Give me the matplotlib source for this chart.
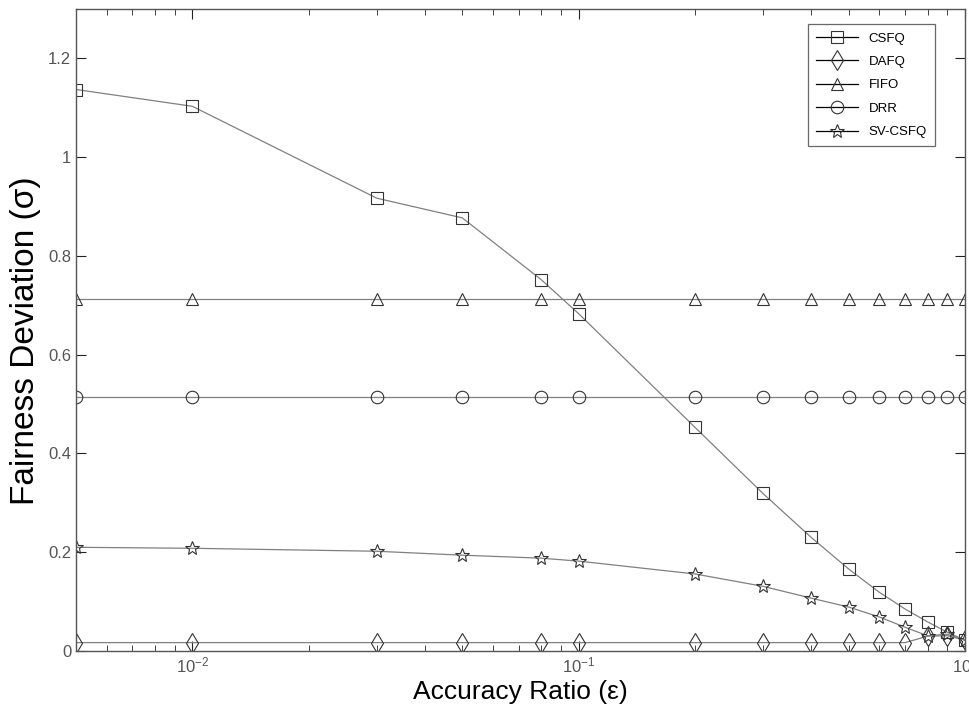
import numpy as np
import matplotlib
matplotlib.use("Agg")
import matplotlib.pyplot as plt
from matplotlib.ticker import LogLocator, NullFormatter

plt.rcParams["font.family"] = ["Liberation Sans", "DejaVu Sans"]

# 精度比 ε
eps = [0.005, 0.01, 0.03, 0.05, 0.08, 0.1, 0.2, 0.3, 0.4, 0.5, 0.6, 0.7, 0.8, 0.9, 1.0]

csfq = [1.137, 1.103, 0.917, 0.877, 0.752, 0.683, 0.453, 0.319, 0.230, 0.166,
        0.119, 0.085, 0.059, 0.038, 0.022]
dafq = [0.017, 0.017, 0.017, 0.017, 0.017, 0.017, 0.017, 0.017, 0.017, 0.017,
        0.017, 0.017, 0.030, 0.031, 0.022]
fifo = [0.713] * len(eps)
drr = [0.515] * len(eps)
sv_csfq = [0.210, 0.208, 0.202, 0.194, 0.188, 0.182, 0.156, 0.131, 0.107, 0.089,
           0.069, 0.048, 0.031, 0.034, 0.022]

series = [
    ("CSFQ", csfq, "s", 9),
    ("DAFQ", dafq, "d", 10),
    ("FIFO", fifo, "^", 9),
    ("DRR", drr, "o", 9),
    ("SV-CSFQ", sv_csfq, "*", 10),
]

fig = plt.figure(figsize=(9.7, 7.09), dpi=100)
ax = fig.add_axes([0.0784, 0.0818, 0.9164, 0.9055])

for name, vals, mk, ms in series:
    ax.plot(eps, vals, color="#808080", linewidth=0.9, marker=mk,
            markersize=ms, markerfacecolor="none",
            markeredgecolor="#333333", markeredgewidth=0.8, label=name)

ax.set_xscale("log")
ax.set_xlim(0.005, 1.0)
ax.set_ylim(0, 1.3)
ax.set_yticks([0, 0.2, 0.4, 0.6, 0.8, 1.0, 1.2])
ax.set_yticklabels(["0", "0.2", "0.4", "0.6", "0.8", "1", "1.2"])
ax.xaxis.set_minor_locator(LogLocator(base=10, subs=np.arange(2, 10)))
ax.xaxis.set_minor_formatter(NullFormatter())

ax.tick_params(which="both", direction="in", top=True, right=True,
               labelsize=12, labelcolor="#555555", color="#222222")
ax.tick_params(which="major", length=7)
ax.tick_params(which="minor", length=4)
for sp in ax.spines.values():
    sp.set_color("#555555")
    sp.set_linewidth(1.0)

ax.set_xlabel("Accuracy Ratio (ε)", fontsize=19, labelpad=3)
ax.set_ylabel("Fairness Deviation (σ)", fontsize=24)
ax.yaxis.set_label_coords(-0.039, 0.483)

leg = ax.legend(loc="upper right", bbox_to_anchor=(0.966, 0.976), fontsize=9.5,
                frameon=True, fancybox=False, edgecolor="#444444",
                handlelength=3.2, handletextpad=0.8, borderpad=0.6,
                labelspacing=0.85, borderaxespad=0)
for h in leg.get_lines():
    h.set_color("black")
leg.get_frame().set_linewidth(0.9)

fig.savefig("out.png", dpi=100)
plt.close()
